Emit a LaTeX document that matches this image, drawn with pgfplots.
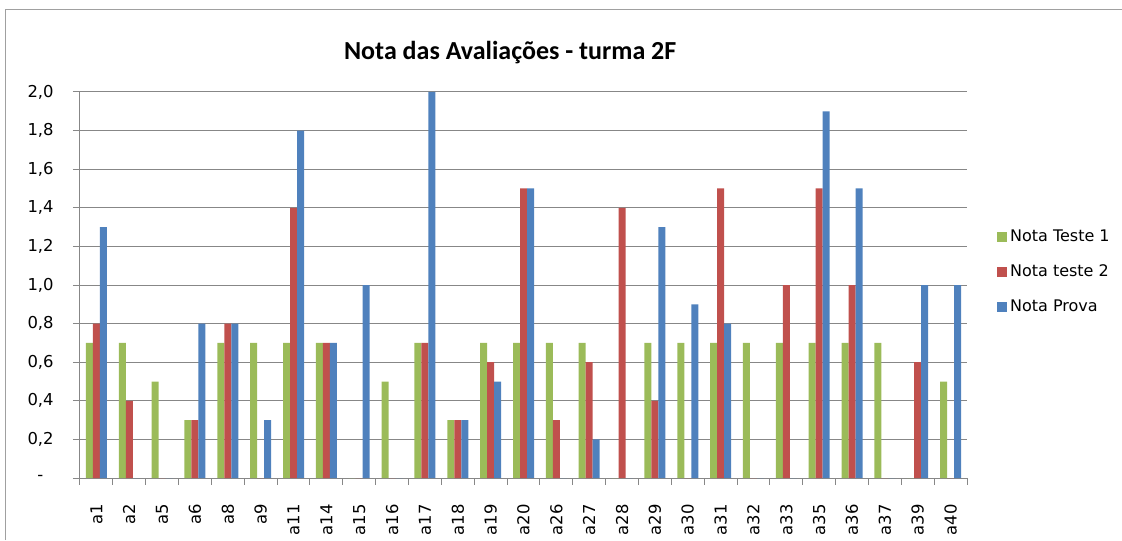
\documentclass[border=0pt]{standalone}
\usepackage{pgfplots}
\pgfplotsset{compat=1.18}
\usepackage{pgfplotstable}
\usepackage{fontspec}
\setmainfont{DejaVu Sans}
\newfontfamily\titlefont{Carlito}
\definecolor{cG}{HTML}{9BBB59}
\definecolor{cR}{HTML}{C0504D}
\definecolor{cB}{HTML}{4F81BD}
\definecolor{gridc}{HTML}{878787}
\definecolor{framec}{HTML}{A0A0A0}

\pgfplotstableread{
idx t1 t2 pr
0 0.7 0.8 1.3
1 0.7 0.4 0
2 0.5 0 0
3 0.3 0.3 0.8
4 0.7 0.8 0.8
5 0.7 0 0.3
6 0.7 1.4 1.8
7 0.7 0.7 0.7
8 0 0 1.0
9 0.5 0 0
10 0.7 0.7 2.0
11 0.3 0.3 0.3
12 0.7 0.6 0.5
13 0.7 1.5 1.5
14 0.7 0.3 0
15 0.7 0.6 0.2
16 0 1.4 0
17 0.7 0.4 1.3
18 0.7 0 0.9
19 0.7 1.5 0.8
20 0.7 0 0
21 0.7 1.0 0
22 0.7 1.5 1.9
23 0.7 1.0 1.5
24 0.7 0 0
25 0 0.6 1.0
26 0.5 0 1.0
}\data

\pgfplotsset{mylegend/.style={legend image code/.code={\fill[##1] (0pt,-3.75pt) rectangle (7.5pt,3.75pt);}}}

\begin{document}
\begin{tikzpicture}
\path[use as bounding box] (0,0) rectangle (841.5pt,405pt);
\draw[line width=0.75pt, framec] (3.75pt,0) -- (3.75pt,397.5pt) -- (841.5pt,397.5pt);
\begin{axis}[
  at={(60pt,46.5pt)}, anchor=south west, scale only axis,
  width=665.25pt, height=289.5pt,
  ybar=0pt, bar width=5.25pt,
  xmin=-0.5, xmax=26.5, ymin=0, ymax=2,
  axis lines*=left,
  axis line style={gridc, line width=0.75pt},
  xtick={0,...,26},
  xticklabels={a1,a2,a5,a6,a8,a9,a11,a14,a15,a16,a17,a18,a19,a20,a26,a27,a28,a29,a30,a31,a32,a33,a35,a36,a37,a39,a40},
  major x tick style={draw=none},
  minor xtick={-0.5,0.5,...,26.5},
  minor x tick style={gridc, line width=0.75pt},
  ytick={0,0.2,0.4,0.6,0.8,1.0,1.2,1.4,1.6,1.8,2.0},
  yticklabels={-\hphantom{0},{0,2},{0,4},{0,6},{0,8},{1,0},{1,2},{1,4},{1,6},{1,8},{2,0}},
  major y tick style={gridc, line width=0.75pt},
  tick align=outside,
  major tick length=5.25pt, minor tick length=5pt,
  ymajorgrids, grid style={gridc, line width=0.75pt},
  tick label style={font=\fontsize{12.3}{14}\selectfont},
  xticklabel style={rotate=90, anchor=east},
  xticklabel shift=11pt,
  yticklabel shift=11pt,
  title={Nota das Avaliações - turma 2F},
  title style={at={(0.485,1)}, anchor=base, yshift=18pt, font=\titlefont\bfseries\fontsize{19.5}{22}\selectfont},
  legend style={at={(1.034,0.534)}, anchor=west, draw=none, fill=none, inner sep=0pt,
    row sep=12pt, font=\fontsize{12}{14}\selectfont},
  legend cell align=left,
]
\addplot[fill=cG, draw=none, mylegend] table[x=idx, y=t1] {\data};
\addlegendentry{Nota Teste 1}
\addplot[fill=cR, draw=none, mylegend] table[x=idx, y=t2] {\data};
\addlegendentry{Nota teste 2}
\addplot[fill=cB, draw=none, mylegend] table[x=idx, y=pr] {\data};
\addlegendentry{Nota Prova}
\end{axis}
\end{tikzpicture}
\end{document}
